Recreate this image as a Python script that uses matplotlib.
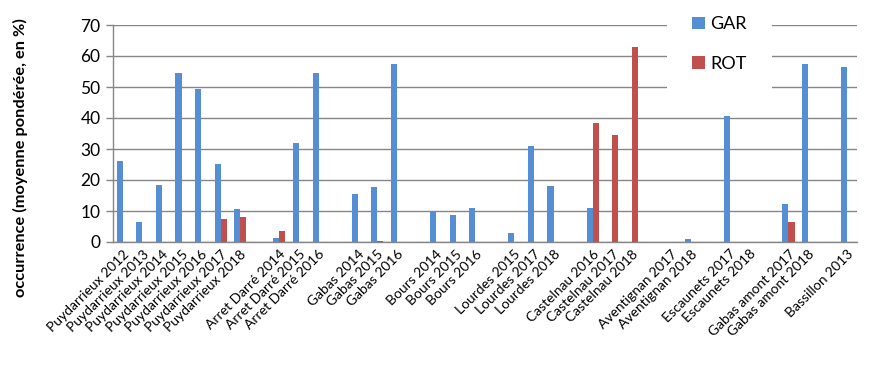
import matplotlib.pyplot as plt
from matplotlib.transforms import ScaledTranslation
import numpy as np

plt.rcParams['font.family'] = ['Lato', 'DejaVu Sans']

# empty strings are the gaps between the stations
categories = [
    'Puydarrieux 2012', 'Puydarrieux 2013', 'Puydarrieux 2014', 'Puydarrieux 2015',
    'Puydarrieux 2016', 'Puydarrieux 2017', 'Puydarrieux 2018', '',
    'Arret Darré 2014', 'Arret Darré 2015', 'Arret Darré 2016', '',
    'Gabas 2014', 'Gabas 2015', 'Gabas 2016', '',
    'Bours 2014', 'Bours 2015', 'Bours 2016', '',
    'Lourdes 2015', 'Lourdes 2017', 'Lourdes 2018', '',
    'Castelnau 2016', 'Castelnau 2017', 'Castelnau 2018', '',
    'Aventignan 2017', 'Aventignan 2018', '',
    'Escaunets 2017', 'Escaunets 2018', '',
    'Gabas amont 2017', 'Gabas amont 2018', '',
    'Bassillon 2013',
]
gar = [26.0, 6.3, 18.5, 54.5, 49.5, 25.3, 10.8, 0,
       1.3, 32.0, 54.4, 0,
       15.6, 17.8, 57.5, 0,
       10.0, 8.8, 11.1, 0,
       3.0, 31.1, 18.2, 0,
       11.1, 0, 0, 0,
       0, 1.1, 0,
       40.8, 0, 0,
       12.4, 57.5, 0,
       56.6]
rot = [0, 0, 0, 0, 0, 7.5, 8.2, 0,
       3.6, 0, 0, 0,
       0, 0.4, 0, 0,
       0, 0, 0, 0,
       0, 0, 0, 0,
       38.5, 34.6, 63.0, 0,
       0, 0, 0,
       0, 0, 0,
       6.5, 0, 0,
       0]

grey = '#868686'
x = np.arange(len(categories))
w = 0.31

fig = plt.figure(figsize=(8.7, 3.67), dpi=100)
ax = fig.add_axes([113 / 870, 1 - 242 / 367, 744 / 870, 217 / 367])

ax.bar(x - w / 2, gar, w, color='#558ED5', label='GAR', zorder=3)
ax.bar(x + w / 2, rot, w, color='#C0504D', label='ROT', zorder=3)

ax.set_xlim(-0.5, len(categories) - 0.5)
ax.set_ylim(0, 70)
ax.set_yticks(range(0, 71, 10))
ax.yaxis.grid(True, color=grey, linewidth=1, zorder=0)
ax.tick_params(axis='y', colors=grey, length=5, width=1, labelsize=12.5,
               labelcolor='black', pad=4)
ax.tick_params(axis='x', length=0, pad=2)
ax.set_xticks(x)
ax.set_xticklabels(categories, rotation=45, ha='right', va='top',
                   rotation_mode='anchor', fontsize=10)
# nudge the slanted labels like Excel does
shift = ScaledTranslation(0.0, -0.03, fig.dpi_scale_trans)
for lbl in ax.get_xticklabels():
    lbl.set_transform(lbl.get_transform() + shift)

for side in ['top', 'right']:
    ax.spines[side].set_visible(False)
for side in ['left', 'bottom']:
    ax.spines[side].set_color(grey)
    ax.spines[side].set_linewidth(1)

fig.text(0.024, 1 - 158 / 367, 'occurrence (moyenne pondérée, en %)',
         rotation=90, ha='center', va='center', fontsize=11.8, fontweight='bold')

leg = ax.legend(loc='center left', bbox_to_anchor=(667 / 870, 1 - 44 / 367),
                bbox_transform=fig.transFigure, frameon=True, fontsize=13,
                handlelength=0.7, handleheight=0.7, labelspacing=1.3,
                borderpad=1.4, handletextpad=0.3, borderaxespad=0)
leg.get_frame().set_facecolor('white')
leg.get_frame().set_edgecolor('none')
leg.get_frame().set_alpha(1)
leg.set_zorder(5)

fig.savefig('out.png', dpi=100)
